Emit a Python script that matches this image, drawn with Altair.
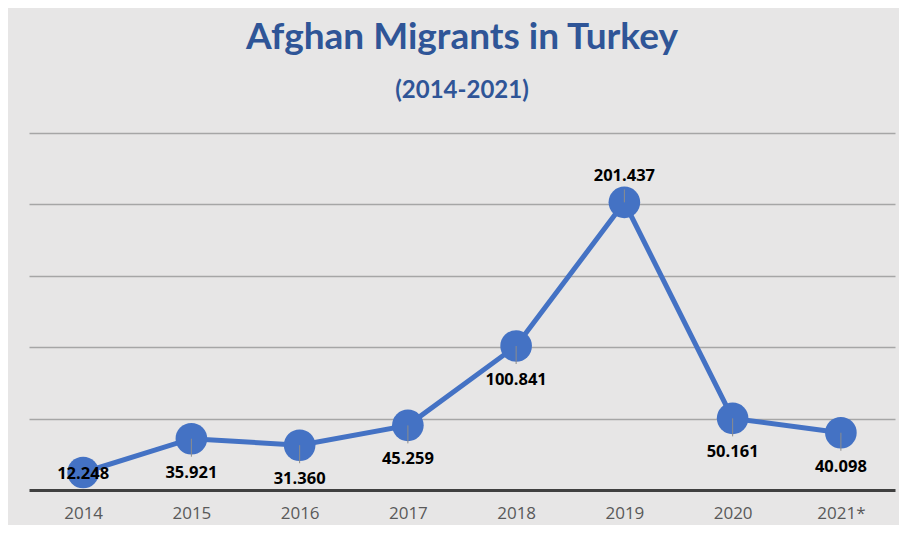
import altair as alt
import pandas as pd

years = ["2014", "2015", "2016", "2017", "2018", "2019", "2020", "2021*"]
migrants = [12.248, 35.921, 31.360, 45.259, 100.841, 201.437, 50.161, 40.098]
labels = ["12.248", "35.921", "31.360", "45.259", "100.841", "201.437", "50.161", "40.098"]
label_side = ["center", "below", "below", "below", "below", "above", "below", "below"]
grid_values = [50, 100, 150, 200, 250]

df = pd.DataFrame({"year": years, "value": migrants, "label": labels, "side": label_side})

BLUE = "#4472C4"
TITLE_BLUE = "#2F5597"

x = alt.X(
    "year:N", sort=years, title=None,
    scale=alt.Scale(type="point", padding=0.5),
    axis=alt.Axis(labelAngle=0, ticks=False, domainColor="#404040", domainWidth=3,
                  labelColor="#595959", labelFont="Open Sans", labelFontSize=17,
                  labelPadding=15, grid=False),
)
y = alt.Y(
    "value:Q", title=None, scale=alt.Scale(domain=[0, 250]),
    axis=alt.Axis(values=grid_values, labels=False, ticks=False, domain=False,
                  grid=True, gridColor="#a6a6a6", gridWidth=1.5),
)

base = alt.Chart(df).encode(x=x, y=y)

line = base.mark_line(color=BLUE, strokeWidth=5)
pts = base.mark_circle(size=1000, color=BLUE, opacity=1)

lead_below = base.transform_filter(alt.datum.side == "below").mark_rule(
    color="#8c8c8c", strokeWidth=1, y2Offset=18).encode(y2="value:Q")
lead_above = base.transform_filter(alt.datum.side == "above").mark_rule(
    color="#8c8c8c", strokeWidth=1, y2Offset=-13).encode(y2="value:Q")

txt_style = dict(font="Open Sans", fontSize=16.5, fontWeight="bold", color="black")
t_below = base.transform_filter(alt.datum.side == "below").mark_text(dy=34, **txt_style).encode(text="label:N")
t_above = base.transform_filter(alt.datum.side == "above").mark_text(dy=-26, **txt_style).encode(text="label:N")
t_center = base.transform_filter(alt.datum.side == "center").mark_text(dy=1, **txt_style).encode(text="label:N")

chart = alt.layer(line, pts, lead_below, lead_above, t_below, t_above, t_center).properties(
    width=866, height=357,
    padding={"left": 21, "top": 125, "right": 4, "bottom": 35},
    autosize=alt.AutoSizeParams(type="none"),
    background="#e7e6e6",
    title=alt.TitleParams(
        text="Afghan Migrants in Turkey", subtitle="(2014-2021)",
        font="Lato", fontSize=37, fontWeight="bold", color=TITLE_BLUE,
        subtitleFont="Lato", subtitleFontSize=24, subtitleFontWeight="bold",
        subtitleColor=TITLE_BLUE, anchor="middle", offset=29, subtitlePadding=22,
    ),
).configure_view(strokeWidth=0)

chart.save("out.html", embed_options={"renderer": "svg", "actions": False})
